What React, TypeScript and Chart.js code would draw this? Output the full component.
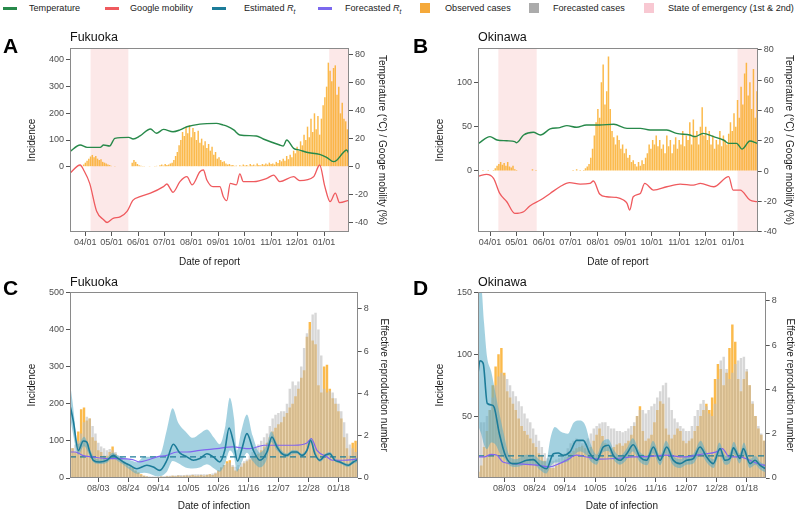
import React, { useEffect, useRef } from 'react';
import { Chart, registerables } from 'chart.js';

Chart.register(...registerables);

const FONT = '"Liberation Sans", Arial, Helvetica, sans-serif';
Chart.defaults.font.family = FONT;

// ---------------- ticks (days after 2020-04-01) ----------------
const monthTickDays = [0, 30, 61, 91, 122, 153, 183, 214, 244, 275];
const monthTickLabels = ['04/01', '05/01', '06/01', '07/01', '08/01', '09/01', '10/01', '11/01', '12/01', '01/01'];
const weekTickDays = [124, 145, 166, 187, 208, 229, 250, 271, 292];
const weekTickLabels = ['08/03', '08/24', '09/14', '10/05', '10/26', '11/16', '12/07', '12/28', '01/18'];

const incidenceTicksA = [0, 100, 200, 300, 400];
const incidenceTicksB = [0, 50, 100];
const incidenceTicksC = [0, 100, 200, 300, 400, 500];
const incidenceTicksD = [50, 100, 150];
const climateTicks = [-40, -20, 0, 20, 40, 60, 80];
const rtTicks = [0, 2, 4, 6, 8];
const rtThreshold = 1;

// state of emergency periods [start day, end day]
const emergencyA = [[6, 49.5], [281, 310]];
const emergencyB = [[9.4, 52.8], [280, 310]];

// ---------------- Panel A: Fukuoka, by date of report (every 2 days from day -18) ----------------
const casesAStart = -18;
const casesA = [
  0, 0, 0, 0, 0, 0, 1, 2, 8, 15,
  22, 30, 38, 44, 35, 40, 30, 25, 28, 18,
  15, 12, 8, 6, 3, 2, 1, 0, 0, 0,
  0, 0, 0, 0, 0, 2, 15, 25, 18, 10,
  5, 3, 1, 1, 0, 2, 1, 0, 2, 1,
  3, 2, 5, 8, 4, 10, 6, 8, 12, 15,
  25, 40, 55, 80, 100, 130, 115, 150, 125, 156,
  110, 145, 130, 100, 135, 90, 105, 80, 95, 70,
  85, 60, 75, 45, 55, 30, 35, 25, 18, 20,
  12, 8, 10, 5, 6, 3, 4, 2, 5, 3,
  8, 4, 6, 3, 10, 5, 8, 4, 12, 6,
  5, 10, 7, 12, 8, 15, 10, 12, 8, 18,
  14, 25, 20, 30, 22, 40, 28, 45, 35, 60,
  50, 75, 60, 95, 80, 120, 100, 150, 110, 180,
  130, 200, 140, 190, 120, 180, 230, 260, 300, 390,
  360, 320, 370, 380, 270, 300, 200, 240, 180, 170,
  140, 120,
];
const temperatureA = [
  [-18, 10.7], [-6, 15.5], [2, 13.8], [17, 13.8], [21, 15.5], [28, 14.8], [34, 20.3], [50, 21], [55, 19.8],
  [63, 22], [75, 27], [82, 23.9], [90, 26.7], [101, 25], [109, 26.3], [117, 28.6], [132, 30.5], [151, 31],
  [159, 29.8], [163, 29], [171, 26.3], [178, 22.7], [197, 22], [205, 19.8], [224, 15.5], [228, 14.8],
  [232, 19.1], [240, 13.1], [247, 11.9], [255, 10.3], [270, 8.8], [278, 6.7], [286, 3.6], [290, 4.8],
  [297, 10], [301, 11.9], [304, 9],
];
const mobilityA = [
  [-18, -4.8], [-6, 1.2], [-2, -2.4], [5, -12], [13, -32], [21, -38], [25, -40], [32, -37], [40, -36],
  [48, -32], [55, -24], [63, -21.5], [75, -19], [90, -14.3], [94, -12.4], [98, -16], [101, -18.4],
  [109, -10.7], [117, -7.2], [123, -13], [132, -3.6], [136, -2.4], [140, -9.5], [147, -14.3], [155, -14.3],
  [159, -21.5], [163, -24.3], [167, -12], [174, -13], [178, -5.2], [182, -10.7], [194, -10.7], [209, -8.4],
  [217, -6], [224, -10.7], [240, -7.2], [247, -10], [263, -7.2], [270, 1.2], [276, -14.3], [282, -25],
  [288, -19], [293, -25.8], [304, -24],
];

// ---------------- Panel B: Okinawa, by date of report (every 2 days from day -12) ----------------
const casesBStart = -12;
const casesB = [
  0, 0, 1, 0, 0, 1, 0, 0, 1, 3,
  6, 8, 10, 7, 9, 6, 10, 5, 4, 6,
  2, 1, 0, 0, 0, 0, 0, 0, 0, 0,
  2, 0, 1, 0, 0, 0, 0, 0, 0, 0,
  0, 0, 0, 0, 0, 0, 0, 0, 0, 0,
  0, 0, 0, 1, 0, 2, 0, 1, 0, 1,
  3, 5, 8, 15, 25, 40, 55, 70, 60, 100,
  120, 75, 90, 129, 70, 45, 38, 30, 40, 35,
  25, 30, 20, 25, 15, 18, 10, 12, 8, 5,
  10, 6, 12, 8, 15, 20, 30, 25, 35, 30,
  40, 28, 35, 25, 30, 20, 40, 28, 35, 20,
  30, 38, 25, 35, 30, 45, 28, 40, 35, 55,
  30, 58, 40, 45, 30, 50, 72, 40, 50, 35,
  45, 30, 40, 25, 35, 30, 45, 28, 40, 35,
  30, 42, 55, 45, 65, 50, 80, 60, 95, 75,
  110, 122, 85, 100, 70, 115, 60, 90,
];
const temperatureB = [
  [-13, 18.3], [0, 22.7], [8, 20.5], [19, 20], [28, 19.4], [30, 18.7], [38, 23.8], [49, 25.6], [57, 23.8],
  [68, 27.8], [79, 28.7], [87, 30], [98, 28.9], [109, 30.4], [124, 30.4], [140, 30.9], [155, 28.2],
  [170, 28.2], [181, 27.1], [200, 27.1], [211, 24.9], [226, 23.8], [232, 22.7], [241, 24.9], [253, 22.7],
  [264, 20.5], [270, 18.3], [279, 18.3], [285, 14.5], [294, 19.8], [302, 18.3],
];
const mobilityB = [
  [-13, -3.3], [-4, -2.2], [4, -4.8], [11, -14.8], [19, -20.3], [28, -28], [38, -26.9], [45, -23.1],
  [57, -19.2], [68, -14.8], [79, -10.4], [90, -7.7], [102, -8.6], [113, -8.2], [117, -6.6], [124, -15.2],
  [132, -17], [143, -17.4], [151, -19.2], [155, -21.4], [158, -25.8], [162, -17], [170, -14.8], [175, -8.2],
  [185, -12.6], [200, -10.4], [215, -8.6], [230, -9.3], [238, -8.2], [253, -10.4], [270, -3.7], [275, -12.6],
  [283, -12.6], [294, -19.2], [302, -20.3],
];

// ---------------- Panel C: Fukuoka, by date of infection (every 2 days from day 104) ----------------
const infStartC = 104;
const observedC = [
  75, 80, 70, 125, 185, 190, 155, 160, 110, 100,
  75, 70, 60, 60, 70, 85, 65, 55, 50, 42,
  38, 30, 28, 20, 15, 10, 6, 4, 3, 3,
  2, 3, 4, 3, 5, 4, 6, 5, 7, 5,
  6, 7, 6, 8, 6, 7, 8, 6, 8, 10,
  8, 12, 20, 28, 35, 45, 48, 30, 20, 25,
  30, 40, 45, 50, 55, 60, 65, 75, 85, 95,
  110, 125, 135, 145, 150, 165, 175, 190, 200, 220,
  240, 270, 290, 380, 420, 370, 360, 250, 230, 300,
  305, 240, 215, 200, 180, 160, 110, 80, 60, 95, 100,
];
const forecastC = [
  85, 80, 90, 100, 120, 150, 165, 160, 140, 120,
  95, 85, 80, 75, 78, 75, 70, 60, 55, 45,
  40, 30, 25, 18, 12, 8, 6, 5, 4, 4,
  4, 5, 5, 5, 6, 6, 7, 7, 8, 8,
  8, 9, 9, 10, 10, 10, 10, 10, 10, 10,
  12, 15, 20, 28, 35, 40, 42, 35, 30, 35,
  40, 45, 50, 60, 70, 80, 90, 100, 110, 120,
  140, 160, 170, 175, 180, 180, 200, 240, 260, 250,
  260, 300, 350, 390, 400, 440, 445, 400, 330, 240,
  230, 235, 230, 215, 200, 180, 150, 120, 90, 80, 70,
];
const rtC = [
  [104, 3.5], [106.5, 2.7], [110, 1.3], [113.5, 1.75], [116, 1.7], [118, 1.23], [120.5, 0.84], [125, 0.76],
  [130, 0.84], [134.5, 1.07], [138, 0.92], [141.5, 0.76], [146, 0.6], [151, 0.44], [158, 0.6], [162.5, 0.52],
  [167, 0.36], [172, 0.84], [176.5, 1.6], [181, 1.19], [186, 1.0], [190.5, 0.84], [195, 0.92], [200, 1.15],
  [204.5, 1.0], [209, 0.76], [212.5, 1.31], [215.5, 2.37], [218.5, 1.71], [221.5, 0.8], [224.5, 1.39],
  [228, 2.1], [232.5, 1.31], [237, 0.84], [242, 1.23], [245.5, 1.94], [249, 1.47], [252.5, 1.15],
  [256, 1.07], [259.5, 1.23], [263, 1.23], [266.5, 1.07], [270, 1.31], [272.5, 1.79], [275.5, 1.15],
  [279, 0.84], [282.5, 1.07], [286, 1.15], [289.5, 0.84], [293, 0.76], [299, 0.6], [302.5, 0.76], [305.5, 0.87],
];
// [day, lower, upper]
const rtBandC = [
  [104, 3.0, 4.6], [106, 2.2, 3.6], [110, 1.1, 1.6], [114, 1.5, 1.95], [118, 1.05, 1.4], [121, 0.72, 0.98],
  [125, 0.66, 0.88], [130, 0.72, 0.96], [134, 0.95, 1.2], [138, 0.78, 1.06], [142, 0.6, 0.95], [146, 0.4, 0.85],
  [151, 0.2, 0.75], [156, 0.25, 1.0], [160, 0.2, 1.0], [165, 0.08, 1.0], [168, 0.1, 1.2], [172, 0.3, 2.3],
  [176, 0.8, 3.3], [180, 0.7, 2.6], [185, 0.5, 2.2], [190, 0.45, 1.9], [195, 0.5, 2.1], [200, 0.65, 2.3],
  [205, 0.45, 1.9], [209, 0.3, 1.6], [213, 0.75, 2.5], [216, 1.3, 3.8], [219, 1.0, 2.8], [221, 0.3, 1.3],
  [224, 0.7, 2.2], [228, 1.2, 3.0], [232, 0.8, 2.0], [237, 0.5, 1.2], [242, 0.9, 1.6], [245, 1.7, 2.2],
  [249, 1.3, 1.65], [253, 1.05, 1.25], [256, 0.98, 1.16], [260, 1.14, 1.32], [263, 1.15, 1.31],
  [266, 1.0, 1.15], [270, 1.22, 1.4], [273, 1.68, 1.9], [276, 1.06, 1.24], [279, 0.76, 0.92],
  [283, 0.98, 1.16], [286, 1.07, 1.23], [290, 0.77, 0.91], [293, 0.69, 0.83], [299, 0.52, 0.68],
  [302, 0.66, 0.86], [305.5, 0.76, 0.98],
];
const rtForecastC = [
  [104, 1.23], [108, 1.23], [113, 1.07], [120, 1.0], [130, 0.92], [139, 0.92], [148, 0.87], [153, 0.76],
  [158, 0.84], [165, 1.0], [172, 1.07], [179, 1.23], [186, 1.23], [195, 1.31], [207, 1.39], [218, 1.47],
  [230, 1.39], [240, 1.55], [249, 1.55], [261, 1.55], [270, 1.66], [273, 1.87], [277, 1.31], [284, 1.0],
  [288, 0.84], [295, 0.84], [302, 0.87], [305.5, 0.9],
];

// ---------------- Panel D: Okinawa, by date of infection (every 2 days from day 106) ----------------
const infStartD = 106;
const observedD = [
  5, 10, 25, 38, 55, 75, 90, 100, 105, 85,
  70, 65, 60, 55, 48, 42, 38, 35, 32, 28,
  25, 20, 18, 14, 10, 8, 8, 10, 12, 13,
  15, 17, 20, 22, 24, 25, 26, 24, 22, 25,
  30, 35, 40, 34, 28, 25, 24, 25, 27, 28,
  26, 28, 30, 35, 42, 50, 58, 38, 30, 32,
  35, 45, 55, 62, 60, 40, 35, 32, 35, 40,
  38, 30, 28, 30, 32, 38, 42, 50, 55, 60,
  55, 65, 80, 92, 88, 75, 85, 105, 124, 110,
  80, 70, 80, 86, 75, 60, 50, 40, 35, 30,
];
const forecastD = [
  40, 45, 45, 50, 55, 65, 75, 82, 85, 83,
  80, 75, 70, 66, 62, 58, 52, 48, 45, 40,
  35, 30, 25, 20, 16, 14, 14, 15, 16, 18,
  20, 24, 28, 30, 32, 30, 28, 30, 32, 36,
  40, 42, 44, 45, 45, 42, 40, 40, 38, 38,
  37, 38, 40, 42, 45, 50, 55, 55, 52, 55,
  58, 60, 65, 70, 75, 77, 65, 55, 48, 45,
  42, 40, 38, 38, 42, 50, 55, 60, 63, 58,
  52, 50, 60, 80, 95, 98, 88, 80, 85, 92,
  95, 97, 98, 88, 75, 62, 50, 42, 36, 30,
];
const rtD = [
  [105.8, 4.72], [107.1, 5.3], [109.4, 5.18], [112.2, 3.37], [115.2, 3.3], [117, 3.2], [120.6, 2.0],
  [125.2, 0.95], [129.8, 0.65], [132.5, 0.65], [139.5, 0.8], [144.1, 0.83], [148.7, 0.57], [153.3, 0.42],
  [158, 1.1], [161.4, 1.13], [164.9, 1.03], [169.5, 1.18], [174.1, 1.7], [178.7, 1.7], [183.4, 1.1],
  [188, 0.8], [192.6, 1.4], [196.1, 1.48], [199.5, 1.03], [204.2, 0.8], [208.8, 1.1], [213.4, 1.5],
  [218, 0.95], [222.6, 0.8], [227.3, 1.4], [231.9, 0.8], [236.5, 1.4], [241.1, 0.8], [245.7, 0.65],
  [250.4, 0.8], [255, 0.88], [259.6, 1.4], [264.2, 0.95], [268.8, 0.65], [273.5, 1.33], [276.9, 0.8],
  [280.4, 0.88], [282.7, 1.36], [287.3, 0.88], [289.6, 1.33], [294.2, 0.65], [297.7, 0.8], [301.2, 0.57],
  [305.1, 0.42],
];
const rtBandD = [
  [105.8, 2.4, 8.6], [108, 2.0, 8.6], [110, 1.5, 7.0], [112, 1.3, 5.5], [115, 1.6, 4.8], [118, 1.5, 3.8],
  [121, 1.1, 2.8], [124, 0.9, 1.9], [127, 0.6, 1.1], [132, 0.5, 0.85], [139, 0.6, 1.05], [144, 0.62, 1.05],
  [149, 0.35, 0.8], [153, 0.2, 0.75], [156, 0.5, 1.8], [159, 0.7, 2.3], [163, 0.7, 2.1], [168, 0.75, 2.0],
  [172, 1.0, 2.5], [176, 1.2, 2.6], [180, 1.1, 2.4], [184, 0.75, 1.5], [188, 0.6, 1.05], [192, 1.15, 1.65],
  [196, 1.22, 1.75], [200, 0.8, 1.25], [204, 0.6, 1.0], [209, 0.85, 1.35], [213, 1.2, 1.8], [218, 0.72, 1.18],
  [223, 0.58, 1.02], [227, 1.12, 1.68], [232, 0.58, 1.02], [236, 1.12, 1.68], [241, 0.58, 1.02],
  [246, 0.45, 0.85], [250, 0.6, 1.0], [255, 0.66, 1.1], [260, 1.12, 1.68], [264, 0.72, 1.18],
  [269, 0.45, 0.85], [273, 1.05, 1.6], [277, 0.6, 1.0], [280, 0.66, 1.1], [283, 1.08, 1.64],
  [287, 0.66, 1.1], [290, 1.05, 1.6], [294, 0.45, 0.85], [298, 0.6, 1.0], [301, 0.4, 0.75], [305.1, 0.25, 0.6],
];
const rtForecastD = [
  [105.8, 0.95], [110, 0.95], [115, 1.07], [119, 1.03], [123, 0.72], [130, 0.65], [139, 0.62], [148, 0.57],
  [155, 0.5], [162, 0.65], [167, 0.8], [174, 1.03], [181, 0.95], [190, 0.85], [201, 0.88], [213, 0.95],
  [225, 0.98], [236, 1.03], [248, 0.95], [260, 1.07], [271, 1.18], [275, 1.33], [280, 0.95], [287, 0.95],
  [294, 0.8], [301, 0.62], [305.1, 0.57],
];

// ---------------- legend ----------------
const legendLabels = ['Temperature', 'Google mobility', 'Estimated R', 'Forecasted R', 'Observed cases', 'Forecasted cases', 'State of emergency (1st & 2nd)'];

// ---------------- styling ----------------
const C_TEMP = '#27894A';
const C_MOB = '#EF5A5E';
const C_RT = '#1C7C99';
const C_BAND = 'rgba(88,172,198,0.55)';
const C_FRT = '#8064F0';
const C_OBS = 'rgba(250,166,26,0.78)';
const C_FCS = 'rgba(188,188,188,0.6)';
const C_EMER = 'rgba(249,200,200,0.42)';

type XY = { x: number; y: number };
const everyTwo = (start: number, values: number[]): XY[] => values.map((y, i) => ({ x: start + 2 * i, y }));
const toXY = (rows: number[][], col = 1): XY[] => rows.map((r) => ({ x: r[0], y: r[col] }));

const shadePlugin = {
  id: 'shade',
  beforeDatasetsDraw(chart: any, _a: any, opts: any) {
    const periods: number[][] = (opts && opts.periods) || [];
    if (!periods.length) return;
    const xs = chart.scales.x;
    const a = chart.chartArea;
    const ctx = chart.ctx;
    ctx.save();
    ctx.fillStyle = opts.color;
    for (const [s, e] of periods) {
      const x0 = Math.max(a.left, xs.getPixelForValue(s));
      const x1 = Math.min(a.right, xs.getPixelForValue(e));
      if (x1 > x0) ctx.fillRect(x0, a.top, x1 - x0, a.bottom - a.top);
    }
    ctx.restore();
  },
};

const framePlugin = {
  id: 'frame',
  afterDatasetsDraw(chart: any) {
    const a = chart.chartArea;
    const ctx = chart.ctx;
    ctx.save();
    ctx.strokeStyle = '#8a8a8a';
    ctx.lineWidth = 1;
    ctx.strokeRect(Math.round(a.left) + 0.5, Math.round(a.top) + 0.5, Math.round(a.right - a.left) - 1, Math.round(a.bottom - a.top) - 1);
    ctx.restore();
  },
};

const tickFont = { family: FONT, size: 9 };
const titleFont = { family: FONT, size: 10 };

function yAxis(position: string, min: number, max: number, ticks: number[], title: string, width: number) {
  return {
    type: 'linear',
    position,
    min,
    max,
    afterBuildTicks: (s: any) => { s.ticks = ticks.map((v) => ({ value: v })); },
    afterFit: (s: any) => { s.width = width; },
    grid: { drawOnChartArea: false, drawTicks: true, tickLength: 4, color: '#555', lineWidth: 1 },
    border: { display: false },
    ticks: { font: tickFont, color: '#4d4d4d', padding: 2, callback: (v: any) => String(v) },
    title: { display: true, text: title, font: titleFont, color: '#1a1a1a', padding: 0 },
  };
}

function xAxis(min: number, max: number, days: number[], labels: string[], title: string, height: number, titlePadBottom: number) {
  return {
    type: 'linear',
    min,
    max,
    offset: false,
    afterBuildTicks: (s: any) => { s.ticks = days.map((v) => ({ value: v })); },
    afterFit: (s: any) => { s.height = height; },
    grid: { drawOnChartArea: false, drawTicks: true, tickLength: 4, color: '#555', lineWidth: 1, offset: false },
    border: { display: false },
    ticks: { font: tickFont, color: '#4d4d4d', padding: 1, autoSkip: false, maxRotation: 0, callback: (_v: any, i: number) => labels[i] },
    title: { display: true, text: title, font: titleFont, color: '#1a1a1a', padding: { top: 0, bottom: titlePadBottom } },
  };
}

function lineDs(data: XY[], color: string, width: number, order: number, axis: string, extra: any = {}) {
  return {
    type: 'line', data, borderColor: color, borderWidth: width, pointRadius: 0, yAxisID: axis,
    tension: 0.4, cubicInterpolationMode: 'monotone', order, clip: 0, fill: false, ...extra,
  };
}

function barDs(data: XY[], color: string, order: number) {
  return {
    type: 'bar', data, backgroundColor: color, borderWidth: 0, barPercentage: 0.85, categoryPercentage: 1,
    grouped: false, yAxisID: 'y', order, clip: 0,
  };
}

function baseOptions(scales: any, padding: any, emergency: number[][]) {
  return {
    responsive: false,
    animation: false,
    events: [],
    layout: { padding },
    scales,
    plugins: {
      legend: { display: false },
      tooltip: { enabled: false },
      shade: { periods: emergency, color: C_EMER },
    },
  };
}

function reportConfig(o: any) {
  return {
    type: 'bar',
    data: {
      datasets: [
        lineDs(toXY(o.temp), C_TEMP, 1.4, 1, 'y2'),
        lineDs(toXY(o.mob), C_MOB, 1.3, 1, 'y2'),
        barDs(everyTwo(o.casesStart, o.cases), C_OBS, 10),
      ],
    },
    options: baseOptions(
      {
        x: xAxis(o.xMin, o.xMax, monthTickDays, monthTickLabels, 'Date of report', 38, 2),
        y: yAxis('left', o.yMin, o.yMax, o.yTicks, 'Incidence', o.leftW),
        y2: yAxis('right', o.y2Min, o.y2Max, climateTicks, 'Temperature (°C) / Googe mobility (%)', o.rightW),
      },
      o.pad,
      o.emergency,
    ),
    plugins: [shadePlugin, framePlugin],
  };
}

function infectionConfig(o: any) {
  return {
    type: 'bar',
    data: {
      datasets: [
        lineDs([{ x: o.xMin, y: rtThreshold }, { x: o.xMax, y: rtThreshold }], C_RT, 1.4, 3, 'y2', { borderDash: [6, 4], tension: 0 }),
        lineDs(toXY(o.rt), C_RT, 1.6, 1, 'y2'),
        lineDs(toXY(o.rtF), C_FRT, 1.2, 2, 'y2'),
        lineDs(toXY(o.band, 2), 'transparent', 0, 5, 'y2'),
        lineDs(toXY(o.band, 1), 'transparent', 0, 5, 'y2', { fill: '-1', backgroundColor: C_BAND }),
        barDs(everyTwo(o.start, o.forecast), C_FCS, 9),
        barDs(everyTwo(o.start, o.observed), C_OBS, 10),
      ],
    },
    options: baseOptions(
      {
        x: xAxis(o.xMin, o.xMax, weekTickDays, weekTickLabels, 'Date of infection', 34, 0),
        y: yAxis('left', 0, o.yMax, o.yTicks, 'Incidence', o.leftW),
        y2: yAxis('right', 0, o.y2Max, rtTicks, 'Effective reproduction number', o.rightW),
      },
      o.pad,
      [],
    ),
    plugins: [shadePlugin, framePlugin],
  };
}

function ChartBox({ left, top, width, height, config }: any) {
  const ref = useRef<HTMLCanvasElement>(null);
  useEffect(() => {
    const chart = new Chart(ref.current as HTMLCanvasElement, config());
    return () => chart.destroy();
  }, []);
  return (
    <div style={{ position: 'absolute', left, top, width, height }}>
      <canvas ref={ref} width={width} height={height} style={{ width, height, display: 'block' }} />
    </div>
  );
}

const abs = (left: number, top: number, extra: any = {}) => ({ position: 'absolute' as const, left, top, whiteSpace: 'nowrap' as const, ...extra });

export default function App() {
  const letter = { fontFamily: FONT, fontWeight: 700, fontSize: 21, lineHeight: '21px', color: '#000' };
  const ptitle = { fontFamily: FONT, fontSize: 12.5, lineHeight: '12.5px', color: '#111' };
  const leg = { fontFamily: FONT, fontSize: 9.1, lineHeight: '10px', color: '#222' };
  const legendSwatches = [
    { kind: 'line', color: C_TEMP, x: 3, tx: 29 },
    { kind: 'line', color: C_MOB, x: 105, tx: 130 },
    { kind: 'line', color: C_RT, x: 212, tx: 244 },
    { kind: 'line', color: '#7B68EE', x: 318, tx: 345 },
    { kind: 'box', color: '#F5A93A', x: 420, tx: 445 },
    { kind: 'box', color: '#ABABAB', x: 529, tx: 553 },
    { kind: 'box', color: '#F8C8D2', x: 644, tx: 668 },
  ];
  return (
    <div style={{ position: 'fixed', left: 0, top: 0, width: 796, height: 512, background: '#fff', overflow: 'hidden' }}>
      {legendSwatches.map((s, i) => (
        <React.Fragment key={i}>
          {s.kind === 'line' ? (
            <div style={abs(s.x, 6.5, { width: 14, height: 3, background: s.color })} />
          ) : (
            <div style={abs(s.x, 3, { width: 10, height: 10, background: s.color })} />
          )}
          <div style={abs(s.tx, 3, leg)}>
            {i === 2 || i === 3 ? (
              <span>{legendLabels[i].slice(0, -1)}<i>R</i><sub style={{ fontSize: 6.5, verticalAlign: 'sub' }}><i>t</i></sub></span>
            ) : legendLabels[i]}
          </div>
        </React.Fragment>
      ))}

      <ChartBox left={0} top={30} width={400} height={240} config={() => reportConfig({
        cases: casesA, casesStart: casesAStart, temp: temperatureA, mob: mobilityA, emergency: emergencyA,
        xMin: -17.7, xMax: 303.8, yMin: -245, yMax: 445, yTicks: incidenceTicksA, y2Min: -46.8, y2Max: 85,
        leftW: 43.3, rightW: 38.7, pad: { left: 26.7, right: 12.3, top: 18, bottom: 0 },
      })} />
      <ChartBox left={400} top={30} width={396} height={240} config={() => reportConfig({
        cases: casesB, casesStart: casesBStart, temp: temperatureB, mob: mobilityB, emergency: emergencyB,
        xMin: -13.6, xMax: 302.8, yMin: -68.8, yMax: 138.7, yTicks: incidenceTicksB, y2Min: -40.3, y2Max: 81.3,
        leftW: 43.3, rightW: 36.6, pad: { left: 34.7, right: 1.7, top: 18, bottom: 0 },
      })} />
      <ChartBox left={0} top={270} width={400} height={242} config={() => infectionConfig({
        start: infStartC, observed: observedC, forecast: forecastC, rt: rtC, band: rtBandC, rtF: rtForecastC,
        xMin: 104.2, xMax: 305.5, yMax: 500, yTicks: incidenceTicksC, y2Max: 8.79,
        leftW: 43.3, rightW: 31.6, pad: { left: 26.7, right: 10.7, top: 22.3, bottom: 0 },
      })} />
      <ChartBox left={400} top={270} width={396} height={242} config={() => infectionConfig({
        start: infStartD, observed: observedD, forecast: forecastD, rt: rtD, band: rtBandD, rtF: rtForecastD,
        xMin: 105.8, xMax: 305.1, yMax: 150, yTicks: incidenceTicksD, y2Max: 8.39,
        leftW: 43.3, rightW: 30.3, pad: { left: 34.7, right: 0, top: 22.3, bottom: 0 },
      })} />

      <div style={abs(3, 34.8, letter)}>A</div>
      <div style={abs(413, 34.8, letter)}>B</div>
      <div style={abs(3, 277, letter)}>C</div>
      <div style={abs(413, 277, letter)}>D</div>
      <div style={abs(70, 30.9, ptitle)}>Fukuoka</div>
      <div style={abs(478, 30.9, ptitle)}>Okinawa</div>
      <div style={abs(70, 275.9, ptitle)}>Fukuoka</div>
      <div style={abs(478, 275.9, ptitle)}>Okinawa</div>
    </div>
  );
}
